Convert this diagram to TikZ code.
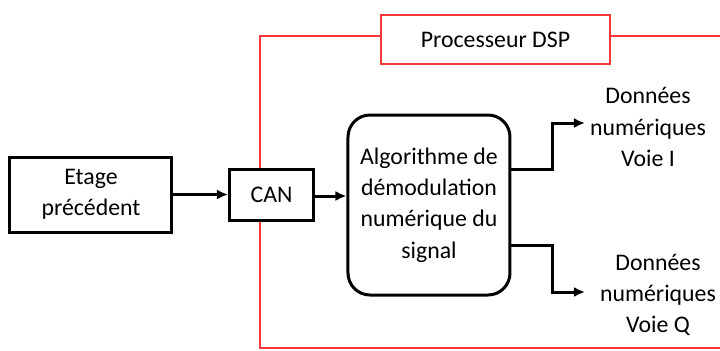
\documentclass[tikz,border=0pt]{standalone}
\usepackage{fontspec}
\setmainfont{Carlito}
\usetikzlibrary{positioning,arrows.meta}
\definecolor{rougedsp}{RGB}{245,55,55}

\begin{document}
\begin{tikzpicture}[x=0.5pt,y=-0.5pt,font=\fontsize{11.9}{15.6}\selectfont,
        bloc/.style={draw,line width=1.5pt,fill=white,align=center,inner sep=0pt},
        cadre/.style={draw=rougedsp,line width=0.8pt},
        fleche/.style={-{Latex[length=5.5pt,width=5pt]},line width=1.5pt}]
        \useasboundingbox (0,0) rectangle (720,350);
        % processeur et son cadre
        \node[cadre,fill=white,minimum width=114.5pt,minimum height=24.5pt] (dsp) at (495.5,39.5) {Processeur DSP};
        \coordinate (coinB) at (260,348);
        \coordinate (bas) at (720,348);
        \coordinate (haut) at (720,36);
        \draw[cadre] ([yshift=1.75pt]dsp.west) -| (coinB) -- (bas);
        \draw[cadre] ([yshift=1.75pt]dsp.east) -- (haut);
        % blocs
        \node[bloc,minimum width=81pt,minimum height=37.5pt] (etage) at (91,194.5) {Etage\\précédent};
        \node[bloc,minimum width=42pt,minimum height=25.5pt] (can) at (271.5,194.5) {CAN};
        \node[bloc,rounded corners=11pt,minimum width=81pt,minimum height=90pt] (algo) at (429,205)
            {Algorithme de\\démodulation\\numérique du\\signal};
        \node[align=center] (voieI) at (648,127) {Données\\numériques\\Voie I};
        \node[align=center] (voieQ) at (658,295) {Données\\numériques\\Voie Q};
        % liaisons
        \coordinate (pointeI) at (585,123);
        \coordinate (pointeQ) at (585,292);
        \draw[fleche] (etage) -- (can);
        \draw[fleche] ([yshift=-0.75pt]can.east) -- ([yshift=-0.75pt]can.east -| algo.west);
        \draw[fleche] ([yshift=18pt]algo.east) -- ++(41,0) |- (pointeI);
        \draw[fleche] ([yshift=-20pt]algo.east) -- ++(41,0) |- (pointeQ);
    \end{tikzpicture}
\end{document}
